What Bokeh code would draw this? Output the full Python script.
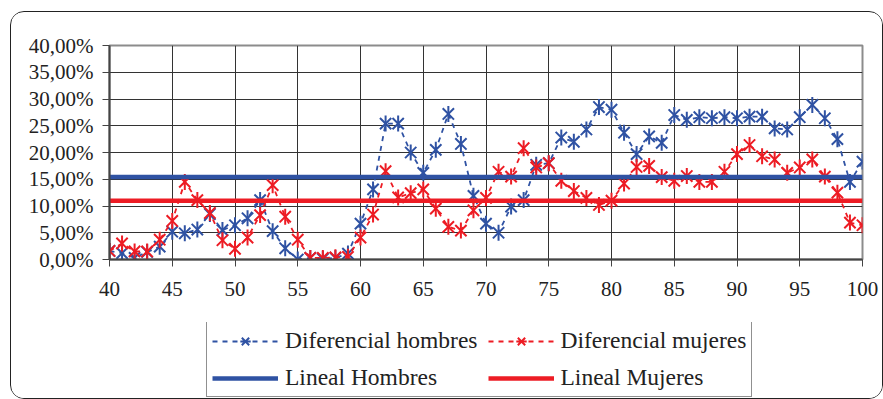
from bokeh.plotting import figure
from bokeh.layouts import column
from bokeh.models import FixedTicker, Legend, LegendItem, Range1d
from bokeh.embed import file_html
from bokeh.resources import INLINE
import math

edades = list(range(40, 101))
dif_hombres = [1.6, 1.2, 0.3, 1.4, 2.4, 5.2, 4.9, 5.6, 8.5, 5.5,
               6.4, 7.7, 11.1, 5.3, 2.1, 0.0, 0.3, 0.1, 0.3, 1.1,
               6.7, 13.1, 25.4, 25.4, 20.0, 16.2, 20.5, 27.2, 21.6, 11.9,
               6.7, 5.0, 9.9, 11.1, 17.7, 18.0, 22.8, 22.0, 24.3, 28.5,
               28.0, 23.7, 19.7, 23.0, 21.8, 27.0, 26.1, 26.6, 26.4, 26.6,
               26.4, 26.7, 26.7, 24.5, 24.3, 26.6, 28.9, 26.4, 22.5, 14.5,
               18.3]
dif_mujeres = [1.6, 3.0, 1.5, 1.5, 3.7, 7.2, 14.5, 11.1, 8.7, 3.6,
               2.0, 4.1, 8.3, 13.9, 8.0, 3.7, 0.3, 0.3, 0.4, 0.5,
               4.1, 8.4, 16.5, 11.6, 12.4, 13.1, 9.5, 6.1, 5.4, 9.2,
               11.5, 16.4, 15.5, 20.8, 17.2, 18.0, 14.7, 12.8, 11.5, 10.2,
               11.0, 14.2, 17.3, 17.5, 15.4, 14.7, 15.6, 14.5, 14.5, 16.4,
               19.7, 21.4, 19.3, 18.7, 16.2, 17.2, 18.7, 15.5, 12.5, 6.9,
               6.4]
lineal_hombres = 15.4
lineal_mujeres = 11.0
x_ticks = [40, 45, 50, 55, 60, 65, 70, 75, 80, 85, 90, 95, 100]
y_ticks = [0, 5, 10, 15, 20, 25, 30, 35, 40]
y_tick_labels = ["0,00%", "5,00%", "10,00%", "15,00%", "20,00%",
                 "25,00%", "30,00%", "35,00%", "40,00%"]
series_names = ["Diferencial hombres", "Diferencial mujeres",
                "Lineal Hombres", "Lineal Mujeres"]

AZUL = "#2F52A3"
ROJO = "#ED1C24"
FONT = "Liberation Serif"

# ---------------- chart ----------------
p = figure(width=871, height=310, output_backend="svg", toolbar_location=None,
           x_range=Range1d(40, 100), y_range=Range1d(0, 40),
           min_border_left=98, min_border_right=20,
           min_border_top=33, min_border_bottom=63)
p.background_fill_color = "white"
p.border_fill_color = "white"
p.outline_line_color = "#8c8c8c"
p.outline_line_width = 2

for ax in (p.xaxis[0], p.yaxis[0]):
    ax.major_label_text_font = FONT
    ax.major_label_text_color = "#222222"
    ax.minor_tick_line_color = None
    ax.major_tick_in = 0
    ax.major_tick_out = 7
    ax.major_tick_line_color = "#444444"
    ax.axis_line_color = "#444444"
    ax.axis_line_width = 2

p.xaxis.ticker = FixedTicker(ticks=x_ticks)
p.xaxis.major_label_text_font_size = "21px"
p.xaxis.major_label_standoff = 15
p.yaxis.ticker = FixedTicker(ticks=y_ticks)
p.yaxis.major_label_overrides = {t: l for t, l in zip(y_ticks, y_tick_labels)}
p.yaxis.major_label_text_font_size = "21px"
p.yaxis.major_label_standoff = 9

p.xgrid.ticker = FixedTicker(ticks=x_ticks)
p.ygrid.ticker = FixedTicker(ticks=y_ticks)
p.xgrid.grid_line_color = "#333333"
p.ygrid.grid_line_color = "#333333"
p.xgrid.grid_line_width = 1
p.ygrid.grid_line_width = 1


def serie(fig, vals, color):
    r_line = fig.line(edades, vals, line_color=color, line_width=1.8, line_dash="5 5")
    r_x = fig.scatter(edades, vals, marker="x", size=16, line_color=color, line_width=2)
    r_v = fig.scatter(edades, vals, marker="dash", angle=math.pi / 2, size=16,
                      line_color=color, line_width=2)
    return [r_line, r_x, r_v]


def lineal(fig, val, color):
    return fig.line([edades[0], edades[-1]], [val, val], line_color=color, line_width=4.5)


serie(p, dif_hombres, AZUL)
serie(p, dif_mujeres, ROJO)
lineal(p, lineal_hombres, AZUL)
lineal(p, lineal_mujeres, ROJO)

# ---------------- legend strip (same series, ranges keep them out of view) ----------------
lf = figure(width=871, height=76, output_backend="svg", toolbar_location=None,
            x_range=Range1d(0, 1), y_range=Range1d(0, 1),
            x_axis_type=None, y_axis_type=None,
            min_border_left=0, min_border_right=0,
            min_border_top=0, min_border_bottom=0)
lf.outline_line_color = None
lf.grid.visible = False
lf.background_fill_color = "white"
lf.border_fill_color = "white"

l_h = serie(lf, dif_hombres, AZUL)
l_m = serie(lf, dif_mujeres, ROJO)
l_lh = lineal(lf, lineal_hombres, AZUL)
l_lm = lineal(lf, lineal_mujeres, ROJO)

legend = Legend(items=[LegendItem(label=series_names[0], renderers=l_h),
                       LegendItem(label=series_names[1], renderers=l_m),
                       LegendItem(label=series_names[2], renderers=[l_lh]),
                       LegendItem(label=series_names[3], renderers=[l_lm])],
                location=(97, 1), orientation="horizontal", ncols=2)
legend.label_text_font = FONT
legend.label_text_font_size = "23.5px"
legend.label_text_color = "#222222"
legend.border_line_color = "#222222"
legend.border_line_width = 1
legend.background_fill_color = "white"
legend.background_fill_alpha = 1
legend.padding = 5
legend.spacing = 10
legend.glyph_width = 66
legend.glyph_height = 26
legend.label_height = 26
legend.label_standoff = 7
legend.margin = 0
lf.add_layout(legend, "center")

layout = column(p, lf, spacing=0)
layout.margin = (11, 0, 0, 10)
layout.styles = {"border": "1.5px solid #222222", "border-radius": "14px",
                 "overflow": "hidden", "background-color": "white"}

open("out.html", "w").write(file_html(layout, INLINE))
